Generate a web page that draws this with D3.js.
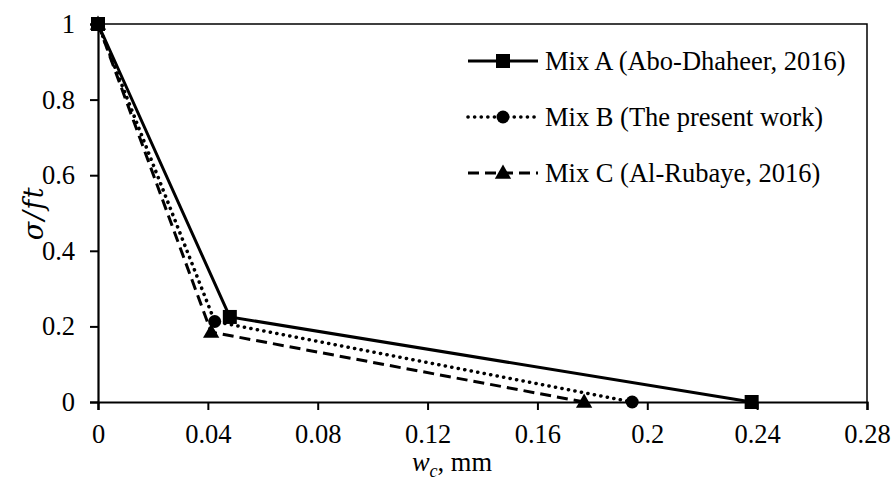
<!DOCTYPE html>
<html>
<head>
<meta charset="utf-8">
<script src="https://cdn.jsdelivr.net/npm/d3@7"></script>
<style>
  html, body { margin: 0; padding: 0; background: #fff; }
  svg { display: block; }
</style>
</head>
<body>
<svg id="chart" width="894" height="480"></svg>
<script>
// Softening curves: normalised stress vs crack width
const seriesNames = ["Mix A (Abo-Dhaheer, 2016)", "Mix B (The present work)", "Mix C (Al-Rubaye, 2016)"];
const mixA = [[0, 1], [0.048, 0.225], [0.238, 0]];
const mixB = [[0, 1], [0.0425, 0.213], [0.1945, 0]];
const mixC = [[0, 1], [0.0412, 0.185], [0.177, 0]];
const xTicks = [0, 0.04, 0.08, 0.12, 0.16, 0.2, 0.24, 0.28];
const yTicks = [0, 0.2, 0.4, 0.6, 0.8, 1];

const SERIF = "Liberation Serif, Times New Roman, Times, serif";
const svg = d3.select("#chart");
const margin = { left: 98, right: 27, top: 24, bottom: 78 };
const W = 894, H = 480;

const x = d3.scaleLinear().domain([0, 0.28]).range([margin.left, W - margin.right]);
const y = d3.scaleLinear().domain([0, 1]).range([H - margin.bottom, margin.top]);

const fontSize = 26.5;

// frame (top and right)
svg.append("path")
  .attr("d", `M${x(0)},${y(1)}H${x(0.28)}V${y(0)}`)
  .attr("fill", "none").attr("stroke", "#000").attr("stroke-width", 1.5);

// axes
const xAxis = svg.append("g").attr("transform", `translate(0,${y(0)})`)
  .call(d3.axisBottom(x).tickValues(xTicks).tickSize(8).tickPadding(9)
    .tickFormat(d => d3.format("~g")(d)));
const yAxis = svg.append("g").attr("transform", `translate(${x(0)},0)`)
  .call(d3.axisLeft(y).tickValues(yTicks).tickSize(8).tickPadding(15)
    .tickFormat(d => d3.format("~g")(d)));

[xAxis, yAxis].forEach(g => {
  g.attr("font-family", SERIF).attr("font-size", fontSize);
  g.select(".domain").attr("stroke", "#000").attr("stroke-width", 2.2);
  g.selectAll(".tick line").attr("stroke", "#000").attr("stroke-width", 2);
  g.selectAll(".tick text").attr("fill", "#000").attr("font-family", SERIF).attr("font-size", fontSize);
});
xAxis.selectAll(".tick text").attr("dy", "0.9em");

const styles = [
  { data: mixA, dash: null, cap: "butt", marker: "square" },
  { data: mixB, dash: "0.1 6.5", cap: "round", marker: "circle" },
  { data: mixC, dash: "11 6", cap: "butt", marker: "triangle" }
];

const line = d3.line().x(d => x(d[0])).y(d => y(d[1]));

function drawMarker(g, type, cx, cy) {
  if (type === "square") {
    g.append("rect").attr("x", cx - 7).attr("y", cy - 7).attr("width", 14).attr("height", 14).attr("fill", "#000");
  } else if (type === "circle") {
    g.append("circle").attr("cx", cx).attr("cy", cy).attr("r", 6.5).attr("fill", "#000");
  } else {
    const s = d3.symbol().type(d3.symbolTriangle).size(115);
    g.append("path").attr("d", s()).attr("transform", `translate(${cx},${cy + 1})`).attr("fill", "#000");
  }
}

// draw series: C first so A sits on top
const plot = svg.append("g");
[2, 1, 0].forEach(i => {
  const s = styles[i];
  plot.append("path").datum(s.data)
    .attr("d", line).attr("fill", "none").attr("stroke", "#000")
    .attr("stroke-width", s.cap === "round" ? 3.6 : 3).attr("stroke-linecap", s.cap)
    .attr("stroke-dasharray", s.dash);
  s.data.forEach(d => drawMarker(plot, s.marker, x(d[0]), y(d[1])));
});

// legend
const legend = svg.append("g");
const legY = [61, 117, 173];
styles.forEach((s, i) => {
  const ly = legY[i];
  legend.append("line").attr("x1", 468).attr("x2", 538).attr("y1", ly).attr("y2", ly)
    .attr("stroke", "#000").attr("stroke-width", s.cap === "round" ? 3.6 : 3)
    .attr("stroke-linecap", s.cap).attr("stroke-dasharray", s.dash);
  drawMarker(legend, s.marker, 503, ly);
  legend.append("text").attr("x", 545).attr("y", ly + 9)
    .attr("font-family", SERIF).attr("font-size", fontSize).text(seriesNames[i]);
});

// axis titles
const xt = svg.append("text").attr("x", 452).attr("y", 471).attr("text-anchor", "middle")
  .attr("font-family", SERIF).attr("font-size", fontSize);
xt.append("tspan").attr("font-style", "italic").text("w");
xt.append("tspan").attr("font-style", "italic").attr("font-size", 18).attr("dy", 6).text("c");
xt.append("tspan").attr("dy", -6).text(", mm");

svg.append("text")
  .attr("transform", `translate(43,${(y(0) + y(1)) / 2}) rotate(-90)`)
  .attr("text-anchor", "middle")
  .attr("font-family", "DejaVu Serif, serif").attr("font-style", "italic").attr("font-size", 27)
  .attr("letter-spacing", 1.5)
  .text("σ/ft");
</script>
</body>
</html>
